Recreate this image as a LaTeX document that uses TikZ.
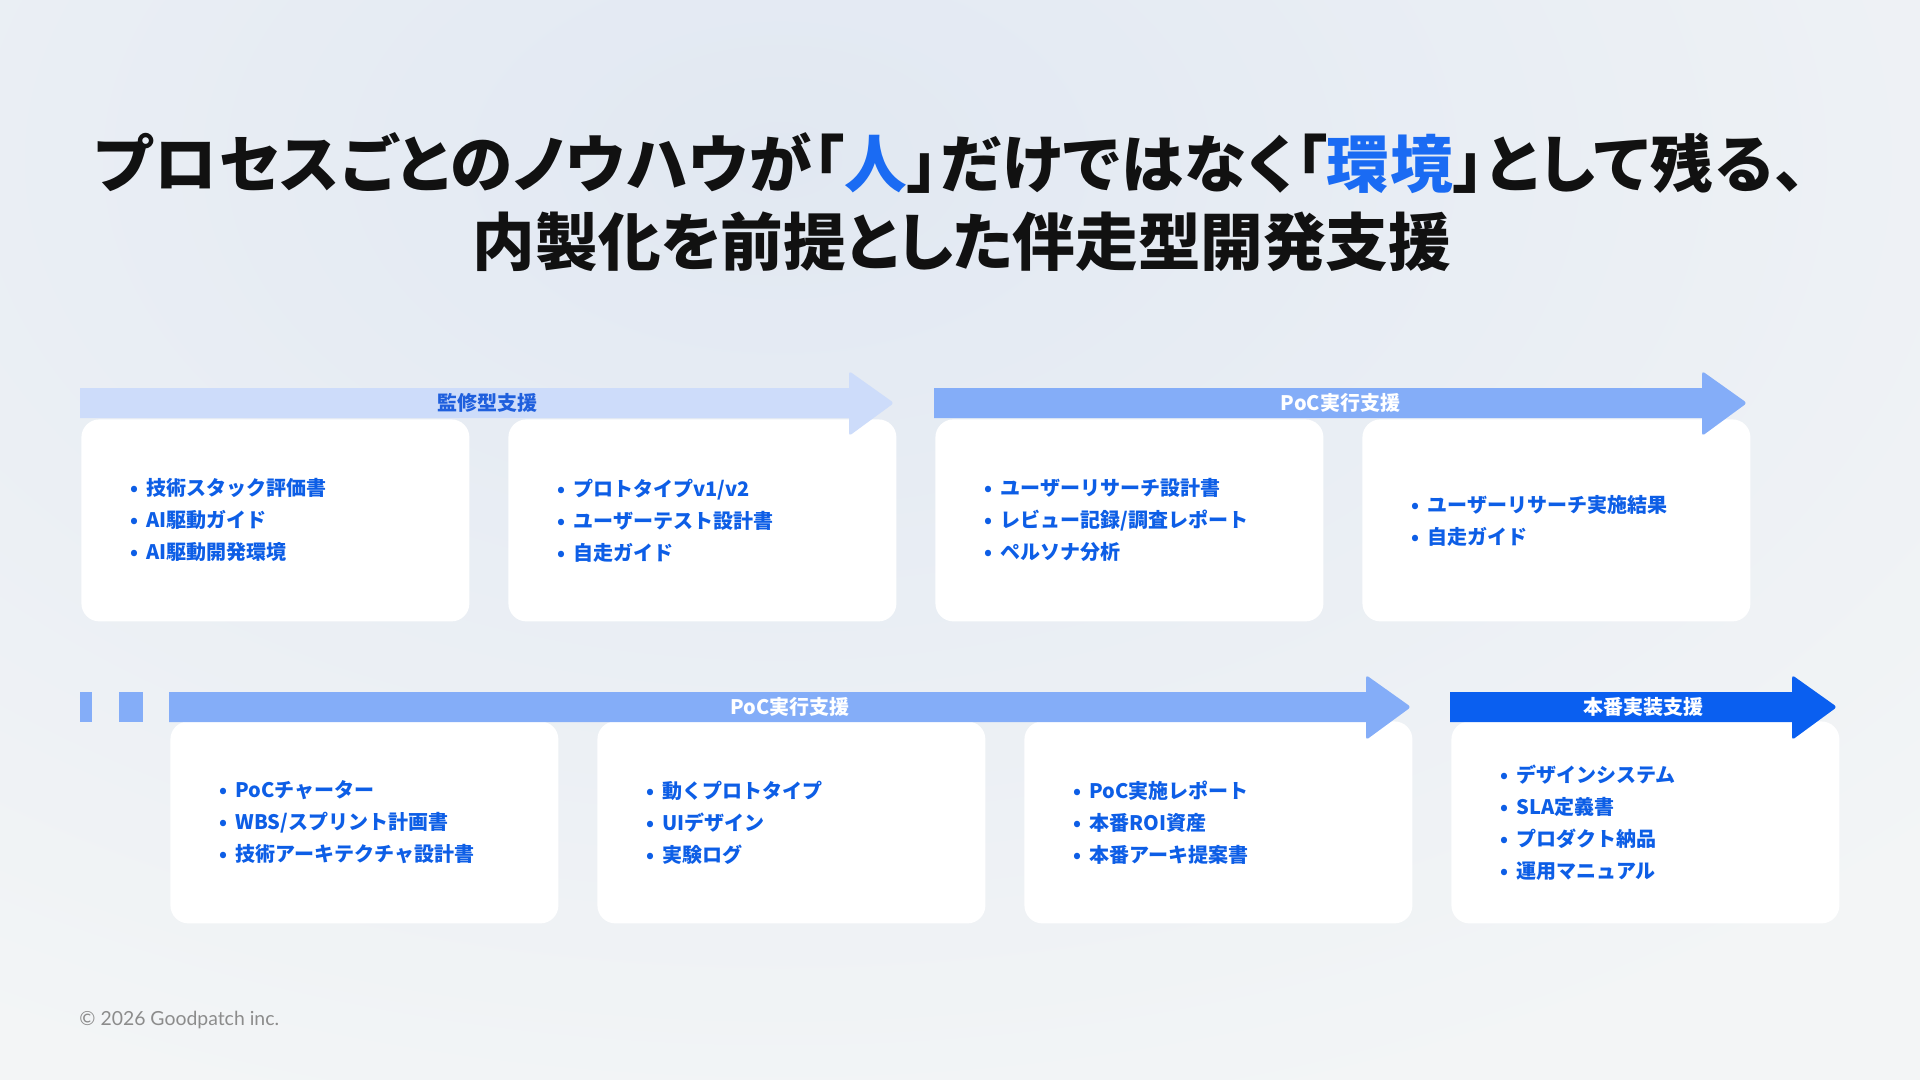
\documentclass[tikz,border=0pt]{standalone}
\usepackage{fontspec}
\setmainfont{Noto Sans CJK JP}
\newfontfamily\titlefont[RawFeature=+palt]{Noto Sans CJK JP}
\newfontfamily\footfont{Lato}
\usetikzlibrary{calc, positioning}
\definecolor{PageGrey}{HTML}{F3F5F6}
\definecolor{MistBlue}{HTML}{E1E8F2}
\definecolor{InkBlack}{HTML}{111111}
\definecolor{AccentBlue}{HTML}{1A6BF3}
\definecolor{PaleBand}{HTML}{CDDCFA}
\definecolor{SoftBand}{HTML}{84ADF8}
\definecolor{DeepBand}{HTML}{0A5FF0}
\definecolor{LabelBlue}{HTML}{1F5FDD}
\definecolor{ItemBlue}{HTML}{0D5EE6}
\definecolor{FootGrey}{HTML}{8C8C8C}
\tikzset{
    card/.style={fill=white, rounded corners=9pt, minimum width=194pt, minimum height=101pt, anchor=north west, inner sep=0pt},
    itemlist/.style={anchor=west, align=left, inner sep=0pt, text=ItemBlue, font=\bfseries\fontsize{10}{16}\selectfont},
    bandlabel/.style={font=\bfseries\fontsize{10}{12}\selectfont, inner sep=0pt},
    headline/.style={font=\titlefont\bfseries\fontsize{31.3}{38}\selectfont, text=InkBlack, inner sep=0pt}
}
\newcommand{\itm}[1]{\makebox[8pt][l]{•}#1}
% band arrow: start, head base, centre y, colour, name, text colour, label
\newcommand{\bandarrow}[7]{
    \fill[#4] (#1,#3-15) -- (#2,#3-15) {[rounded corners=1.5pt] -- (#2,#3-32) -- (#2+45,#3) -- (#2,#3+33)} -- (#2,#3+15) -- (#1,#3+15) -- cycle;
    \node[bandlabel, text=#6] (#5) at ({(#1+#2+45)/2},#3) {#7};
}

\begin{document}
\begin{tikzpicture}[x=0.5pt, y=-0.5pt]
        \useasboundingbox (0,0) rectangle (1920,1080);
        \clip (0,0) rectangle (1920,1080);
        \fill[PageGrey] (0,0) rectangle (1920,1080);
        \fill[inner color=MistBlue, outer color=PageGrey] (-820,-840) rectangle (2380,1160);

        \node[headline] (titleA) at (950,163) {\addfontfeature{LetterSpace=2.4}プロセスごとのノウハウが「\textcolor{AccentBlue}{人}」だけではなく「\textcolor{AccentBlue}{環境}」として残る、};
        \node[headline] (titleB) at (962,242) {内製化を前提とした伴走型開発支援};

        % Row 1 cards
        \node[card] (review1) at (81,419) {};
        \node[card] (review2) at (508,419) {};
        \node[card] (pocA1) at (935,419) {};
        \node[card] (pocA2) at (1362,419) {};
        \node[itemlist] (review1list) at ($(review1.west)+(49,0)$) {\itm{技術スタック評価書}\\\itm{AI駆動ガイド}\\\itm{AI駆動開発環境}};
        \node[itemlist] (review2list) at ($(review2.west)+(49,0)$) {\itm{プロトタイプv1/v2}\\\itm{ユーザーテスト設計書}\\\itm{自走ガイド}};
        \node[itemlist] (pocA1list) at ($(pocA1.west)+(49,0)$) {\itm{ユーザーリサーチ設計書}\\\itm{レビュー記録/調査レポート}\\\itm{ペルソナ分析}};
        \node[itemlist] (pocA2list) at ($(pocA2.west)+(49,0)$) {\itm{ユーザーリサーチ実施結果}\\\itm{自走ガイド}};

        \bandarrow{80}{849}{403}{PaleBand}{reviewband}{LabelBlue}{監修型支援}
        \bandarrow{934}{1702}{403}{SoftBand}{pocbandA}{white}{PoC実行支援}

        % Row 2 cards
        \node[card] (pocB1) at (170,721) {};
        \node[card] (pocB2) at (597,721) {};
        \node[card] (pocB3) at (1024,721) {};
        \node[card] (launch1) at (1451,721) {};
        \node[itemlist] (pocB1list) at ($(pocB1.west)+(49,0)$) {\itm{PoCチャーター}\\\itm{WBS/スプリント計画書}\\\itm{技術アーキテクチャ設計書}};
        \node[itemlist] (pocB2list) at ($(pocB2.west)+(49,0)$) {\itm{動くプロトタイプ}\\\itm{UIデザイン}\\\itm{実験ログ}};
        \node[itemlist] (pocB3list) at ($(pocB3.west)+(49,0)$) {\itm{PoC実施レポート}\\\itm{本番ROI資産}\\\itm{本番アーキ提案書}};
        \node[itemlist] (launch1list) at ($(launch1.west)+(49,0)$) {\itm{デザインシステム}\\\itm{SLA定義書}\\\itm{プロダクト納品}\\\itm{運用マニュアル}};

        \fill[SoftBand] (80,692) rectangle (92,722);
        \fill[SoftBand] (119,692) rectangle (143,722);
        \bandarrow{169}{1366}{707}{SoftBand}{pocbandB}{white}{PoC実行支援}
        \bandarrow{1450}{1792}{707}{DeepBand}{launchband}{white}{本番実装支援}

        \node[anchor=west, inner sep=0pt, text=FootGrey, font=\footfont\fontsize{9.7}{12}\selectfont] (copyright) at (79,1020) {© 2026 Goodpatch inc.};
\end{tikzpicture}
\end{document}
